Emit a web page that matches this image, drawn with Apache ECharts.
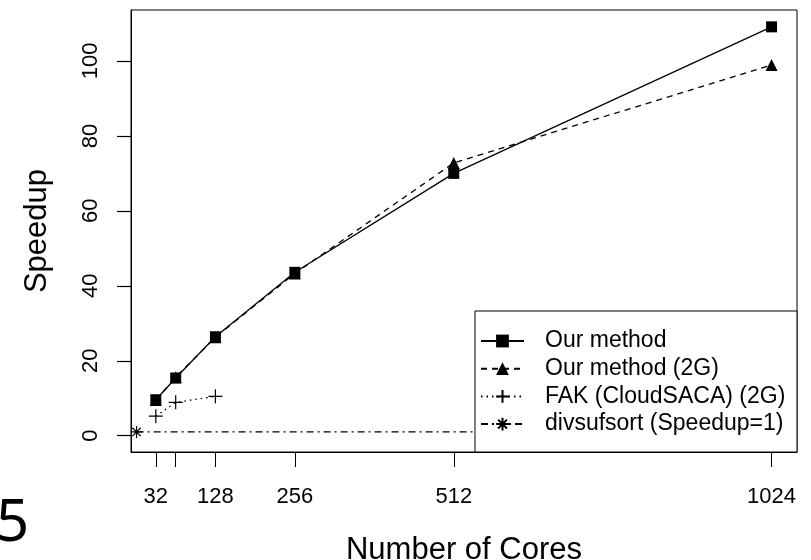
<!DOCTYPE html>
<html style="height: 100%">
<head>
    <meta charset="utf-8">
    <title>Speedup vs Number of Cores</title>
    <script src="https://cdn.jsdelivr.net/npm/echarts@6/dist/echarts.min.js"></script>
</head>
<body style="height: 100%; margin: 0; background: #fff">
    <div id="chart" style="width: 811px; height: 560px"></div>
    <script>
        // data
        const cores = [32, 64, 128, 256, 512, 1024];
        const ourMethod = [9.6, 15.4, 26.4, 43.6, 70.0, 109.1];
        const ourMethod2G = [9.5, 15.6, 26.3, 43.3, 72.8, 98.9];
        const fakCores = [32, 64, 128];
        const fak2G = [5.2, 8.9, 10.5];
        const baseCores = [1, 1024];
        const baseSpeedup = [1, 1];

        const xTicks = [32, 64, 128, 256, 512, 1024];
        const xLabels = [32, 128, 256, 512, 1024];
        const yTicks = [0, 20, 40, 60, 80, 100];

        const FONT = 'Liberation Sans';
        const crossPath = 'path://M0,5L10,5M5,0L5,10';
        const starPath = 'path://M0,5L10,5M5,0L5,10M1.5,1.5L8.5,8.5M1.5,8.5L8.5,1.5';

        const pairs = (xs, ys) => xs.map((x, i) => [x, ys[i]]);

        const chart = echarts.init(document.getElementById('chart'), null, { renderer: 'canvas' });

        chart.setOption({
            animation: false,
            backgroundColor: '#fff',
            grid: {
                left: 131, top: 10, right: 14, bottom: 108,
                outerBoundsMode: 'none',
                containLabel: false,
                show: true, borderColor: '#000', borderWidth: 1
            },
            xAxis: {
                type: 'value',
                min: -8, max: 1065,
                name: 'Number of Cores',
                nameLocation: 'middle',
                nameGap: 83,
                nameTextStyle: { fontFamily: FONT, fontSize: 31, color: '#000' },
                axisLine: { show: true, onZero: false, lineStyle: { color: '#000', width: 1 } },
                splitLine: { show: false },
                axisTick: { show: true, inside: false, length: 15, customValues: xTicks,
                    lineStyle: { color: '#000', width: 1 } },
                axisLabel: { customValues: xLabels, margin: 34,
                    formatter: v => String(v),
                    fontFamily: FONT, fontSize: 22, color: '#000' }
            },
            yAxis: {
                type: 'value',
                min: -4.35, max: 113.6,
                name: 'Speedup',
                nameLocation: 'middle',
                nameGap: 78,
                nameTextStyle: { fontFamily: FONT, fontSize: 31, color: '#000' },
                axisLine: { show: true, onZero: false, lineStyle: { color: '#000', width: 1 } },
                splitLine: { show: false },
                axisTick: { show: true, inside: false, length: 14, customValues: yTicks,
                    lineStyle: { color: '#000', width: 1.2 } },
                axisLabel: { customValues: yTicks, rotate: 90, margin: 29,
                    formatter: v => String(v),
                    fontFamily: FONT, fontSize: 22, color: '#000' }
            },
            legend: {
                orient: 'vertical',
                left: 480, top: 329,
                padding: 0,
                itemWidth: 43, itemHeight: 16,
                itemGap: 3.7,
                textStyle: { fontFamily: FONT, fontSize: 23, color: '#000',
                    lineHeight: 24, padding: [0, 0, 0, 16] },
                data: ['Our method', 'Our method (2G)', 'FAK (CloudSACA) (2G)', 'divsufsort (Speedup=1)']
            },
            graphic: [
                {
                    // legend frame, also hides the baseline behind it
                    type: 'rect', z: 3,
                    shape: { x: 475, y: 311, width: 322, height: 141 },
                    style: { fill: '#fff', stroke: '#000', lineWidth: 1 }
                },
                {
                    type: 'text', left: -4, top: 495,
                    style: { text: '5', font: '58px "Noto Sans"', fill: '#000' }
                }
            ],
            series: [
                {
                    name: 'Our method', type: 'line', z: 2,
                    data: pairs(cores, ourMethod),
                    symbol: 'rect', symbolSize: 11,
                    itemStyle: { color: '#000' },
                    lineStyle: { color: '#000', width: 1.3, type: 'solid' }
                },
                {
                    name: 'Our method (2G)', type: 'line', z: 2,
                    data: pairs(cores, ourMethod2G),
                    symbol: 'triangle', symbolSize: 12,
                    itemStyle: { color: '#000' },
                    lineStyle: { color: '#000', width: 1.3, type: [6, 5] }
                },
                {
                    name: 'FAK (CloudSACA) (2G)', type: 'line', z: 2,
                    data: pairs(fakCores, fak2G),
                    symbol: crossPath, symbolSize: 14,
                    itemStyle: { color: 'none', borderColor: '#000', borderWidth: 1.2 },
                    lineStyle: { color: '#000', width: 1.3, type: [1.5, 4] }
                },
                {
                    name: 'divsufsort (Speedup=1)', type: 'line', z: 2,
                    data: pairs(baseCores, baseSpeedup).map((p, i) =>
                        i === 0 ? { value: p } : { value: p, symbol: 'none' }),
                    symbol: starPath, symbolSize: 12,
                    itemStyle: { color: 'none', borderColor: '#000', borderWidth: 1.2 },
                    lineStyle: { color: '#000', width: 1.2, type: [7, 4, 2, 4] }
                }
            ]
        });
    </script>
</body>
</html>
